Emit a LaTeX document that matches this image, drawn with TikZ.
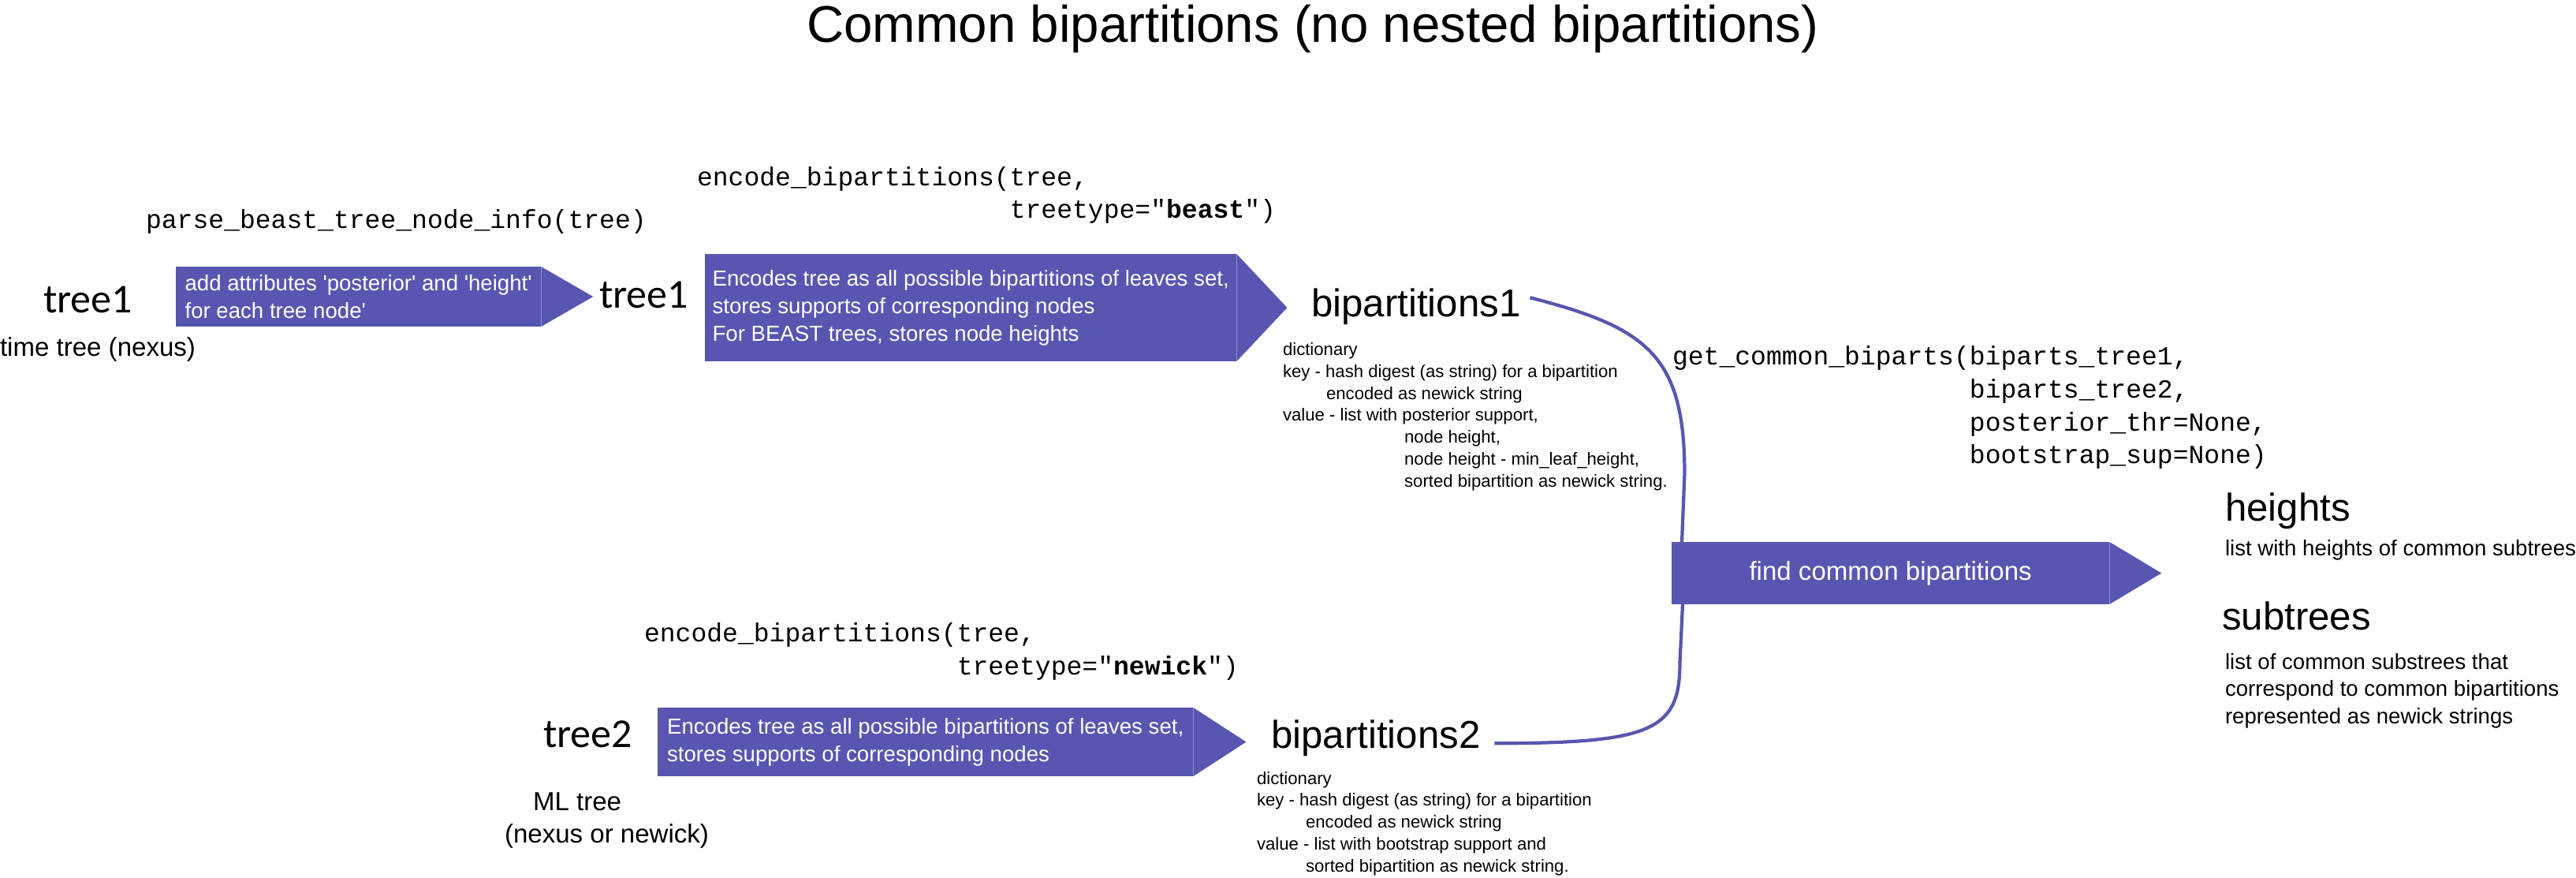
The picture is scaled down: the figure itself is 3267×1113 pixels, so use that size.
\documentclass[tikz,border=0pt]{standalone}
\usepackage{fontspec}
\setmainfont{Liberation Sans}
\setmonofont{Liberation Mono}
\newfontfamily\treefont{Carlito}
\usepackage{xcolor}
\usetikzlibrary{positioning, calc}
\definecolor{blockblue}{RGB}{87,86,176}

\begin{document}
\begin{tikzpicture}[
    x=0.01cm, y=-0.01cm,
    every node/.style={inner sep=0pt, outer sep=0pt},
    title/.style={font=\fontsize{18.6pt}{22pt}\selectfont, anchor=base},
    obj/.style={font=\fontsize{14pt}{17pt}\selectfont, anchor=base west},
    treelbl/.style={font=\treefont\fontsize{14.8pt}{17pt}\selectfont, anchor=base west},
    note/.style={font=\fontsize{9.4pt}{11.65pt}\selectfont, anchor=base west, align=left},
    code/.style={font=\ttfamily\fontsize{9.4pt}{11.87pt}\selectfont, anchor=base west, align=left},
    dict/.style={font=\fontsize{6.3pt}{7.88pt}\selectfont, anchor=base west, align=left},
    desc/.style={font=\fontsize{7.85pt}{9.8pt}\selectfont, anchor=base west, align=left},
    block/.style={rectangle, fill=blockblue, text=white, anchor=north west, align=left, font=\fontsize{7.85pt}{9.96pt}\selectfont},
    tip/.style={fill=blockblue},
    link/.style={draw=blockblue, line width=1.2pt}
]
    \useasboundingbox (0,0) rectangle (3267,1113);

    \node (title) [title] at (1665,54) {Common bipartitions (no nested bipartitions)};

    % first tree
    \node (tree1) [treelbl] at (55,397) {tree1};
    \node (timetree) [note] at (0,452) {time tree (nexus)};
    \node (parse) [code] at (185,290) {parse\_beast\_tree\_node\_info(tree)};
    \node (attr) [block, minimum width=4.63cm, minimum height=0.76cm] at (223,338) {add attributes \textquotesingle posterior\textquotesingle{} and \textquotesingle height\textquotesingle\\for each tree node\textquotesingle};
    \node (tree1b) [treelbl] at (760,391) {tree1};
    \node (encbeast) [code] at (884,277) {encode\_bipartitions(tree,\\\phantom{encode\_bipartitions(}treetype="\textbf{beast}")};
    \node (enc1) [block, minimum width=6.74cm, minimum height=1.36cm] at (894,322) {Encodes tree as all possible bipartitions of leaves set,\\stores supports of corresponding nodes\\For BEAST trees, stores node heights};
    \node (bip1) [obj] at (1663,402) {bipartitions1};
    \node (dict1) [dict] at (1627,617) {dictionary\\key - hash digest (as string) for a bipartition\\\hspace*{0.55cm}encoded as newick string\\value - list with posterior support,\\\hspace*{1.54cm}node height,\\\hspace*{1.54cm}node height - min\_leaf\_height,\\\hspace*{1.54cm}sorted bipartition as newick string.};

    % second tree
    \node (tree2) [treelbl] at (689,947) {tree2};
    \node (mltree) [note] at (640,1068) {\hspace*{0.36cm}ML tree\\(nexus or newick)};
    \node (encnewick) [code] at (817,855) {encode\_bipartitions(tree,\\\phantom{encode\_bipartitions(}treetype="\textbf{newick}")};
    \node (enc2) [block, minimum width=6.79cm, minimum height=0.87cm] at (834,897) {Encodes tree as all possible bipartitions of leaves set,\\stores supports of corresponding nodes};
    \node (bip2) [obj] at (1612,948) {bipartitions2};
    \node (dict2) [dict] at (1594,1105) {dictionary\\key - hash digest (as string) for a bipartition\\\hspace*{0.62cm}encoded as newick string\\value - list with bootstrap support and\\\hspace*{0.62cm}sorted bipartition as newick string.};

    % common part
    \node (common) [code] at (2121,588) {get\_common\_biparts(biparts\_tree1,\\\phantom{get\_common\_biparts(}biparts\_tree2,\\\phantom{get\_common\_biparts(}posterior\_thr=None,\\\phantom{get\_common\_biparts(}bootstrap\_sup=None)};
    \node (find) [block, align=center, minimum width=5.55cm, minimum height=0.79cm, font=\fontsize{9.4pt}{11.3pt}\selectfont] at (2120,687) {find common bipartitions};
    \draw[link] ($(bip1.east)+(12,-12)$) .. controls +(148,38) and +(0,-150) .. ++(196,223) -- ($(find.north west)+(13,0)$);
    \draw[link] ($(bip2.east)+(18,7)$) .. controls +(201,0) and +(0,85) .. ++(235,-102) -- ($(find.south west)+(14,0)$);
    \node (heights) [obj] at (2822,660) {heights};
    \node (hdesc) [desc] at (2822,705) {list with heights of common subtrees};
    \node (subtrees) [obj] at (2818,798) {subtrees};
    \node (sdesc) [desc] at (2822,917) {list of common substrees that\\correspond to common bipartitions\\represented as newick strings};

    % arrow tips
    \fill[tip] (attr.north east) -- ($(attr.east)+(66,0)$) -- (attr.south east) -- cycle;
    \fill[tip] (enc1.north east) -- ($(enc1.east)+(64,0)$) -- (enc1.south east) -- cycle;
    \fill[tip] (enc2.north east) -- ($(enc2.east)+(67,0)$) -- (enc2.south east) -- cycle;
    \fill[tip] (find.north east) -- ($(find.east)+(66,0)$) -- (find.south east) -- cycle;
\end{tikzpicture}
\end{document}
